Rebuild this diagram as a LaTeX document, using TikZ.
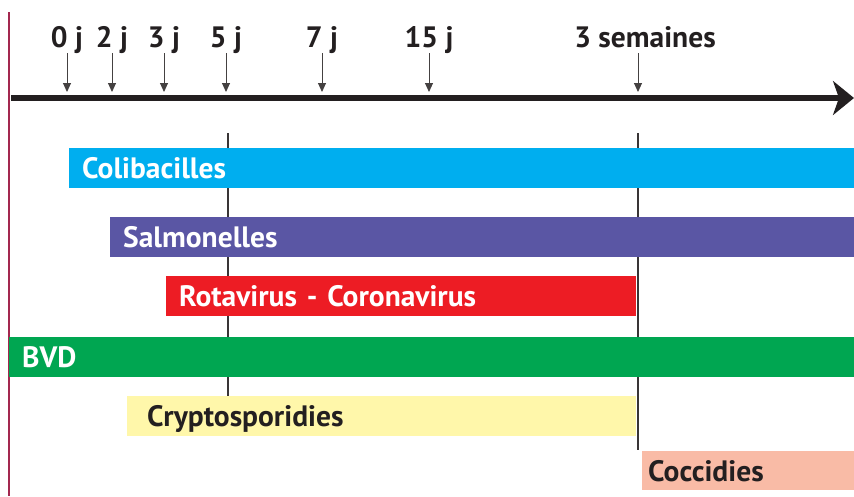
\documentclass[tikz,border=0pt]{standalone}
\usepackage{fontspec}
\setmainfont{PT Sans}
\usetikzlibrary{arrows.meta}
\definecolor{cCyan}{HTML}{00AEEF}
\definecolor{cPurple}{HTML}{5A56A4}
\definecolor{cRed}{HTML}{ED1C24}
\definecolor{cGreen}{HTML}{00A651}
\definecolor{cYellow}{HTML}{FFF7AA}
\definecolor{cSalmon}{HTML}{F9BBA6}
\definecolor{cMaroon}{HTML}{A3284F}
\definecolor{cDark}{HTML}{231F20}
\tikzset{
  lbl/.style={font=\fontsize{29.5}{32}\selectfont\bfseries, text=cDark, anchor=base, inner sep=0pt},
  tick/.style={draw=cDark!85, line width=0.9pt, -{Triangle[width=8pt,length=9pt]}},
  bar/.style={anchor=west, font=\fontsize{29.5}{32}\selectfont\bfseries, text=white, align=left,
    text height=21pt, text depth=0pt, inner ysep=9.5pt, inner xsep=#1},
  bar/.default=13pt,
  vline/.style={draw=cDark!90, line width=2pt}
}
\begin{document}
\begin{tikzpicture}[x=1pt,y=-1pt]
\useasboundingbox (0,0) rectangle (854,496);
% left rule
\draw[cMaroon, line width=1.2pt] (9,12) -- (9,496);
% vertical reference lines
\coordinate (v1t) at (228,133); \coordinate (v1b) at (228,396);
\coordinate (v2t) at (638,133); \coordinate (v2b) at (638,450);
\draw[vline] (v1t) -- (v1b);
\draw[vline] (v2t) -- (v2b);
% axis
\coordinate (axL) at (11,98);
\coordinate (axR) at (854,98);
\draw[line width=6pt, cDark, -{Stealth[length=21pt,width=34pt,inset=6pt]}] (axL) -- (axR);
% tick labels and arrows
\foreach \x/\t/\n in {67/0 j/a,112/2 j/b,164/3 j/c,226/5 j/d,322/7 j/e,429/15 j/f,645/3 semaines/g}{
  \node[lbl] (L\n) at (\x,47) {\t};
}
\foreach \x/\n in {67/a,112/b,164/c,226/d,322/e,429/f,638/g}{
  \coordinate (T\n) at (\x,92);
  \draw[tick] (\x,53) -- (T\n);
}
% bars
\node[bar, fill=cCyan, text width=785pt-26pt] (colib) at (69,168) {Colibacilles};
\node[bar, fill=cPurple, text width=744pt-26pt] (salmo) at (110,236.5) {Salmonelles};
\node[bar, fill=cRed, text width=470pt-26pt] (rota) at (166,296) {Rotavirus - Coronavirus};
\node[bar, fill=cGreen, text width=845pt-26pt] (bvd) at (9,357) {BVD};
\node[bar=20pt, fill=cYellow, text=cDark, text width=509pt-40pt] (crypto) at (127,416) {Cryptosporidies};
\node[bar=6pt, fill=cSalmon, text=cDark, text width=212pt-12pt, inner ysep=9pt] (cocc) at (642,470.5) {Coccidies};
\end{tikzpicture}
\end{document}
